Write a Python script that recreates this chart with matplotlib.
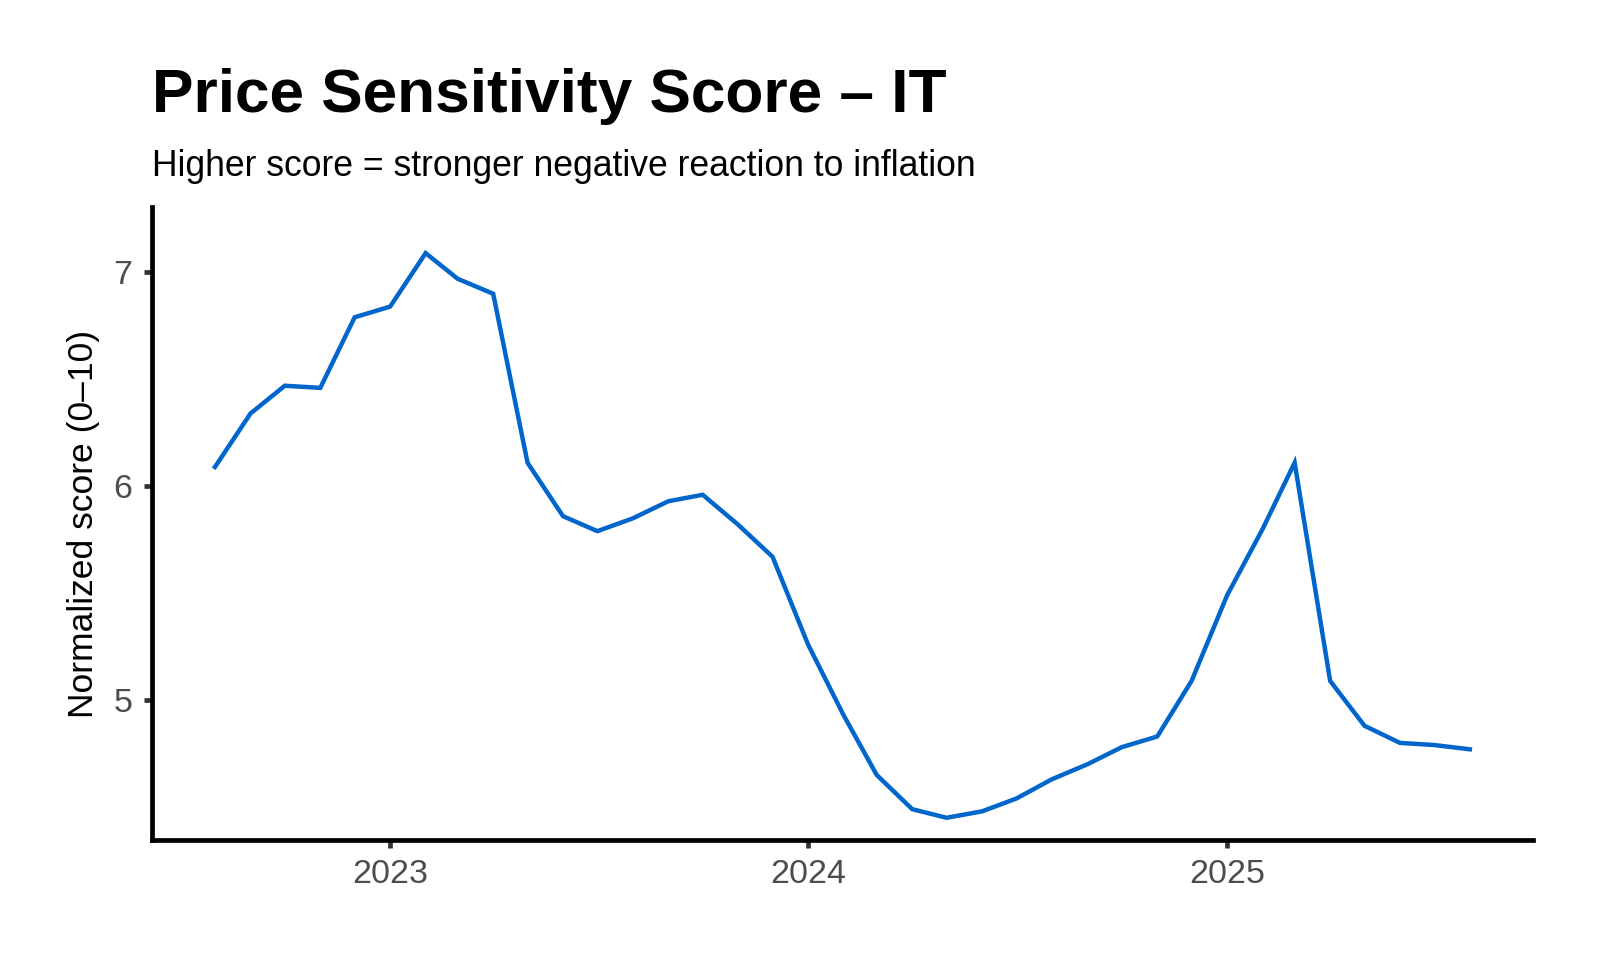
import matplotlib
matplotlib.use("Agg")
import matplotlib.pyplot as plt
import pandas as pd

months = [
    "2022-08", "2022-09", "2022-10", "2022-11", "2022-12",
    "2023-01", "2023-02", "2023-03", "2023-04", "2023-05", "2023-06",
    "2023-07", "2023-08", "2023-09", "2023-10", "2023-11", "2023-12",
    "2024-01", "2024-02", "2024-03", "2024-04", "2024-05", "2024-06",
    "2024-07", "2024-08", "2024-09", "2024-10", "2024-11", "2024-12",
    "2025-01", "2025-02", "2025-03", "2025-04", "2025-05", "2025-06",
    "2025-07", "2025-08",
]
scores = [
    6.09, 6.34, 6.47, 6.46, 6.79,
    6.84, 7.09, 6.97, 6.90, 6.11, 5.86,
    5.79, 5.85, 5.93, 5.96, 5.82, 5.67,
    5.26, 4.93, 4.65, 4.49, 4.45, 4.48,
    4.54, 4.63, 4.70, 4.78, 4.83, 5.09,
    5.49, 5.80, 6.11, 5.09, 4.88, 4.80,
    4.79, 4.77,
]
year_ticks = ["2023-01-01", "2024-01-01", "2025-01-01"]
year_labels = ["2023", "2024", "2025"]
y_ticks = [5, 6, 7]

title = "Price Sensitivity Score \u2013 IT"
subtitle = "Higher score = stronger negative reaction to inflation"
ylabel = "Normalized score (0\u201310)"

plt.rcParams["font.family"] = ["Liberation Sans", "DejaVu Sans"]

dates = pd.to_datetime([m + "-01" for m in months])

fig = plt.figure(figsize=(16, 9.6), dpi=100)
ax = fig.add_axes([0.095, 0.125, 0.958 - 0.095, 0.784 - 0.125])

ax.plot(dates, scores, color="#0066CC", linewidth=3.2, solid_joinstyle="miter")

pad_days = pd.Timedelta(days=55)
ax.set_xlim(dates[0] - pad_days, dates[-1] + pad_days)
ax.set_ylim(4.346, 7.304)

ax.set_xticks(pd.to_datetime(year_ticks))
ax.set_xticklabels(year_labels)
ax.set_yticks(y_ticks)
ax.set_yticklabels([str(v) for v in y_ticks])

for side in ["top", "right"]:
    ax.spines[side].set_visible(False)
for side in ["left", "bottom"]:
    ax.spines[side].set_linewidth(3.4)
    ax.spines[side].set_color("black")

ax.tick_params(axis="both", which="major", length=6, width=3.4, color="#333333",
               labelcolor="#4D4D4D", labelsize=24.5, pad=8)

fig.text(0.052, 0.4547, ylabel, rotation=90, ha="center", va="center",
         fontsize=25.5, color="black")
fig.text(0.095, 1 - 112 / 960, title, ha="left", va="baseline",
         fontsize=44.8, fontweight="bold", color="black")
fig.text(0.095, 1 - 176 / 960, subtitle, ha="left", va="baseline",
         fontsize=25.6, color="black")

fig.savefig("out.png", dpi=100, facecolor="white")
